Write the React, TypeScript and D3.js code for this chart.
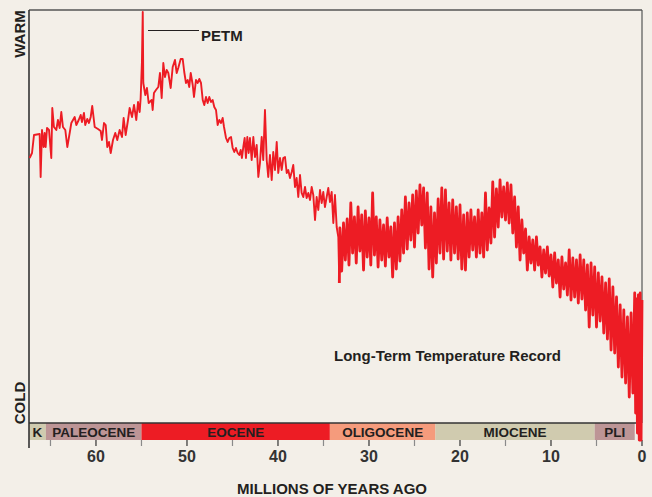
import React, { useEffect, useRef } from "react";
import * as d3 from "d3";

// geological epochs along the bottom bar (ages in Ma)
const epochNames = ["K", "PALEOCENE", "EOCENE", "OLIGOCENE", "MIOCENE", "PLI"];
const epochStarts = [67.36, 65.5, 55.0, 34.3, 22.7, 5.2];
const epochEnds = [65.5, 55.0, 34.3, 22.7, 5.2, 0.8];
const epochColors = ["#d0cbaf", "#bd9596", "#ed1c24", "#f59b7c", "#d0cbaf", "#bd9596"];

const majorTicks = [60, 50, 40, 30, 20, 10, 0];
const minorTicks = [65, 55, 45, 35, 25, 15, 5];

// relative temperature index, [age Ma, value]
const earlyRecord: [number, number][] = [
  [67.29, 26.5], [67.03, 27.0], [66.81, 28.8], [66.19, 28.9], [66.08, 24.6], [65.93, 29.3],
  [65.75, 27.6], [65.64, 29.0], [65.53, 27.6], [65.38, 29.5], [65.16, 29.3], [64.91, 26.5],
  [64.8, 31.5], [64.62, 29.6], [64.36, 29.3], [64.18, 30.3], [63.99, 29.5], [63.81, 31.1],
  [63.63, 29.6], [63.37, 29.3], [63.15, 27.6], [62.89, 29.0], [62.71, 30.0], [62.34, 30.6],
  [62.16, 29.8], [61.9, 30.3], [61.68, 30.8], [61.54, 30.1], [61.32, 31.0], [61.18, 29.8],
  [60.96, 30.4], [60.77, 30.0], [60.58, 30.6], [60.41, 31.7], [60.14, 29.6], [59.78, 29.4],
  [59.48, 29.2], [59.34, 28.3], [59.12, 30.0], [58.93, 29.8], [58.76, 27.6], [58.57, 28.1],
  [58.38, 27.0], [58.13, 28.3], [57.88, 29.0], [57.66, 28.3], [57.4, 29.3], [57.14, 28.6],
  [56.96, 30.5], [56.74, 28.8], [56.48, 30.3], [56.3, 31.5], [56.04, 30.6], [55.82, 31.8],
  [55.57, 30.3], [55.38, 32.1], [55.2, 31.1], [55.09, 32.5], [54.95, 36.1], [54.86, 41.1],
  [54.8, 34.0], [54.58, 32.8], [54.4, 33.5], [54.21, 32.0],
];

const middleRecord: [number, number][] = [
  [53.88, 32.3], [53.77, 31.3], [53.63, 33.0], [53.41, 33.3], [53.15, 33.6], [52.97, 35.0],
  [52.78, 32.5], [52.6, 36.0], [52.42, 34.6], [52.23, 35.3], [52.05, 35.0], [51.79, 33.5],
  [51.57, 35.6], [51.32, 36.3], [51.13, 35.0], [50.96, 35.5], [50.69, 36.4], [50.47, 36.4],
  [50.3, 35.1], [50.11, 34.0], [49.92, 34.3], [49.75, 33.6], [49.59, 35.0], [49.37, 33.8],
  [49.23, 32.6], [49.01, 34.3], [48.82, 34.0], [48.65, 34.4], [48.46, 34.0], [48.27, 32.3],
  [48.1, 31.8], [47.91, 32.6], [47.73, 32.0], [47.55, 32.6], [47.36, 32.1], [47.18, 32.3],
  [47.0, 31.6], [46.81, 31.3], [46.63, 29.8], [46.45, 30.3], [46.26, 30.0], [46.08, 30.5],
  [45.93, 29.6], [45.71, 28.5], [45.53, 28.1], [45.35, 28.5], [45.16, 28.6], [44.98, 27.5],
  [44.8, 27.1], [44.62, 27.5], [44.43, 27.0], [44.25, 26.8], [44.1, 27.3], [43.96, 26.5],
  [43.81, 27.6], [43.66, 28.5], [43.52, 26.5], [43.37, 28.6], [43.22, 27.0], [43.08, 28.5],
  [42.89, 26.3], [42.71, 28.6], [42.53, 26.6], [42.34, 27.8], [42.16, 24.6], [41.98, 26.0],
  [41.79, 28.6], [41.62, 26.3], [41.43, 31.3], [41.24, 26.3], [41.07, 24.6], [40.88, 26.8],
  [40.69, 24.3], [40.52, 27.1], [40.33, 25.3], [40.14, 28.1], [39.97, 25.0], [39.78, 26.5],
  [39.59, 25.3], [39.42, 26.5], [39.23, 26.6], [39.04, 25.0], [38.87, 25.3], [38.68, 24.5],
  [38.49, 25.1], [38.32, 25.8], [38.13, 23.6], [37.95, 24.5], [37.77, 22.6], [37.58, 24.8],
  [37.4, 23.0], [37.22, 22.6], [37.03, 23.6], [36.85, 22.5], [36.67, 23.0], [36.48, 22.3],
  [36.3, 23.6], [36.12, 22.8], [35.93, 20.3], [35.75, 22.6], [35.57, 21.3], [35.38, 23.3],
  [35.2, 22.0], [35.02, 23.1], [34.84, 21.6], [34.65, 22.6], [34.47, 23.5], [34.29, 22.1],
  [34.1, 23.1], [33.92, 20.0], [33.74, 22.8], [33.55, 19.6], [33.37, 18.6], [33.26, 14.0],
];

const lateRecord: [number, number][] = [
  [33.26, 14.0],
  [33.2, 19.5], [33.0, 15.2], [32.8, 20.0], [32.6, 16.3], [32.4, 20.4], [32.2, 15.8],
  [32.0, 22.0], [31.8, 17.0], [31.6, 20.6], [31.4, 16.0], [31.2, 21.6], [31.0, 17.2],
  [30.8, 20.8], [30.6, 15.3], [30.4, 21.2], [30.2, 16.6], [30.0, 20.5], [29.8, 15.8],
  [29.6, 23.0], [29.4, 16.8], [29.2, 20.6], [29.0, 15.6], [28.8, 20.3], [28.6, 16.3],
  [28.4, 19.8], [28.2, 15.7], [28.0, 20.5], [27.8, 16.6], [27.6, 19.6], [27.4, 14.6],
  [27.2, 20.0], [27.0, 15.4], [26.8, 20.6], [26.6, 16.2], [26.4, 21.3], [26.2, 17.0],
  [26.0, 22.6], [25.8, 17.4], [25.6, 22.0], [25.4, 18.3], [25.2, 22.8], [25.0, 17.6],
  [24.8, 23.2], [24.6, 19.0], [24.4, 23.8], [24.2, 19.8], [24.0, 23.5], [23.8, 17.5],
  [23.6, 23.0], [23.4, 15.4], [23.2, 21.6], [23.0, 14.6], [22.8, 21.0], [22.6, 16.0],
  [22.4, 22.4], [22.2, 17.0], [22.0, 23.5], [21.8, 16.4], [21.6, 23.3], [21.4, 17.2],
  [21.2, 22.0], [21.0, 16.3], [20.8, 22.3], [20.6, 17.0], [20.4, 21.6], [20.2, 16.4],
  [20.0, 21.8], [19.8, 15.4], [19.6, 20.8], [19.4, 15.3], [19.2, 21.0], [19.0, 16.6],
  [18.8, 21.3], [18.6, 17.3], [18.4, 20.6], [18.2, 16.6], [18.0, 21.3], [17.8, 17.0],
  [17.6, 21.0], [17.4, 16.6], [17.2, 23.0], [17.0, 17.3], [16.8, 21.5], [16.6, 18.0],
  [16.4, 24.1], [16.2, 18.6], [16.0, 23.4], [15.8, 19.6], [15.6, 24.3], [15.4, 20.6],
  [15.2, 23.6], [15.0, 20.3], [14.8, 24.0], [14.6, 20.0], [14.4, 23.8], [14.2, 19.0],
  [14.0, 22.6], [13.8, 17.6], [13.6, 21.6], [13.4, 16.3], [13.2, 20.3], [13.0, 17.0],
  [12.8, 19.4], [12.6, 15.3], [12.4, 18.6], [12.2, 16.0], [12.0, 18.3], [11.8, 15.3],
  [11.6, 18.6], [11.4, 15.8], [11.2, 17.6], [11.0, 14.6], [10.8, 17.3], [10.6, 15.0],
  [10.4, 17.6], [10.2, 14.7], [10.0, 16.8], [9.8, 13.6], [9.6, 17.0], [9.4, 14.0],
  [9.2, 16.3], [9.0, 12.6], [8.8, 16.6], [8.6, 13.4], [8.4, 16.0], [8.2, 12.8],
  [8.0, 17.3], [7.8, 12.3], [7.6, 16.5], [7.4, 12.6], [7.2, 16.3], [7.0, 12.0],
  [6.8, 16.8], [6.6, 12.4], [6.4, 16.3], [6.2, 11.3], [6.0, 15.8], [5.8, 9.6],
  [5.6, 16.0], [5.4, 10.8], [5.2, 15.6], [5.0, 9.6], [4.8, 15.0], [4.6, 10.2],
  [4.4, 14.6], [4.2, 9.0], [4.0, 14.0], [3.8, 8.4], [3.6, 14.4], [3.4, 7.3],
  [3.2, 13.6], [3.0, 7.0], [2.8, 12.6], [2.6, 5.6], [2.4, 11.8], [2.2, 4.6],
  [2.0, 11.3], [1.8, 4.0], [1.6, 10.6], [1.4, 2.6], [1.2, 11.0], [1.0, 3.0],
  [0.8, 13.0], [0.7, 1.0], [0.6, 12.4], [0.5, -1.0], [0.4, 12.8], [0.3, -1.7],
  [0.2, 13.0], [0.1, -1.7], [0.0, 12.3],
];

const W = 652;
const H = 497;
const left = 29;
const right = 642;
const top = 10;
const bottom = 423;
const barBottom = 440;
const FONT = "'Liberation Sans', Arial, Helvetica, sans-serif";
const INK = "#231f20";
const RED = "#ed1c24";

export default function App() {
  const ref = useRef<SVGSVGElement>(null);

  useEffect(() => {
    const svg = d3.select(ref.current);
    svg.selectAll("*").remove();

    const x = d3.scaleLinear().domain([67.36, 0]).range([left, right]);
    const y = d3.scaleLinear().domain([0, 41.3]).range([bottom, top]);

    svg.append("rect").attr("width", W).attr("height", H).attr("fill", "#f3efe8");

    // epoch bar
    const bar = svg.append("g");
    epochNames.forEach((name, i) => {
      const x0 = x(epochStarts[i]);
      const x1 = x(epochEnds[i]);
      bar.append("rect")
        .attr("x", x0).attr("y", bottom)
        .attr("width", x1 - x0).attr("height", barBottom - bottom)
        .attr("fill", epochColors[i]);
      bar.append("text")
        .text(name)
        .attr("x", (x0 + x1) / 2)
        .attr("y", 436.5)
        .attr("text-anchor", "middle")
        .style("font-family", FONT)
        .style("font-weight", "bold")
        .style("font-size", "13.5px")
        .style("fill", INK);
    });

    // ticks
    svg.append("g").selectAll("line").data(minorTicks).join("line")
      .attr("x1", d => x(d)).attr("x2", d => x(d))
      .attr("y1", barBottom).attr("y2", 446)
      .attr("stroke", "#8a8a8a").attr("stroke-width", 1.2);
    svg.append("g").selectAll("line").data(majorTicks).join("line")
      .attr("x1", d => x(d)).attr("x2", d => x(d))
      .attr("y1", barBottom).attr("y2", 446)
      .attr("stroke", "#333").attr("stroke-width", 1.2);
    svg.append("g").selectAll("text").data(majorTicks).join("text")
      .text(d => d)
      .attr("x", d => x(d)).attr("y", 462)
      .attr("text-anchor", "middle")
      .style("font-family", FONT).style("font-weight", "bold")
      .style("font-size", "16px").style("fill", "#333");

    // frame
    svg.append("line").attr("x1", left).attr("x2", right).attr("y1", top).attr("y2", top)
      .attr("stroke", "#555").attr("stroke-width", 1.4);
    svg.append("line").attr("x1", right).attr("x2", right).attr("y1", top).attr("y2", bottom)
      .attr("stroke", "#555").attr("stroke-width", 1.2);
    svg.append("line").attr("x1", left).attr("x2", right).attr("y1", bottom).attr("y2", bottom)
      .attr("stroke", "#333").attr("stroke-width", 1.6);
    svg.append("line").attr("x1", left).attr("x2", left).attr("y1", top).attr("y2", 448)
      .attr("stroke", "#333").attr("stroke-width", 1.6);

    // temperature record: line before the Oi-1 step, dense band after it
    const line = d3.line<[number, number]>().x(d => x(d[0])).y(d => y(d[1]));
    svg.append("path")
      .datum([...earlyRecord, ...middleRecord])
      .attr("d", line)
      .attr("fill", "none")
      .attr("stroke", RED)
      .attr("stroke-width", 1.9)
      .attr("stroke-linejoin", "round");
    svg.append("path")
      .datum(lateRecord)
      .attr("d", line)
      .attr("fill", "none")
      .attr("stroke", RED)
      .attr("stroke-width", 2.8)
      .attr("stroke-linejoin", "round");

    // PETM annotation
    svg.append("line").attr("x1", 148).attr("x2", 199).attr("y1", 30.5).attr("y2", 30.5)
      .attr("stroke", INK).attr("stroke-width", 1);
    svg.append("text").text("PETM").attr("x", 201).attr("y", 41)
      .style("font-family", FONT).style("font-weight", "bold")
      .style("font-size", "15px").style("fill", INK);

    svg.append("text").text("Long-Term Temperature Record").attr("x", 334).attr("y", 361)
      .style("font-family", FONT).style("font-weight", "bold")
      .style("font-size", "15px").style("fill", INK);

    // axis labels
    const axisText = (label: string, tx: number, ty: number, rot: number) =>
      svg.append("text").text(label)
        .attr("transform", `translate(${tx},${ty}) rotate(${rot})`)
        .attr("text-anchor", "middle")
        .style("font-family", FONT).style("font-weight", "bold")
        .style("font-size", "15px").style("fill", INK);
    axisText("WARM", 24.5, 34, -90);
    axisText("COLD", 24.5, 403, -90);
    axisText("MILLIONS OF YEARS AGO", 332, 494, 0);
  }, []);

  return (
    <svg
      ref={ref}
      width={W}
      height={H}
      style={{ position: "absolute", left: 0, top: 0, display: "block" }}
    />
  );
}
